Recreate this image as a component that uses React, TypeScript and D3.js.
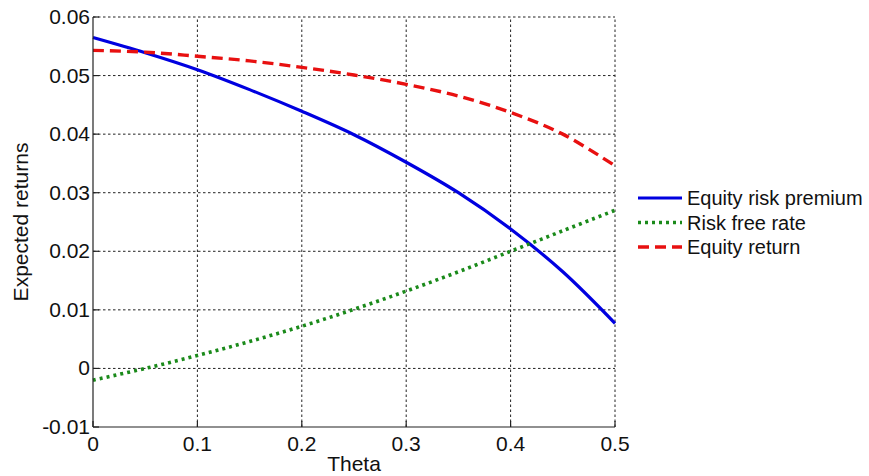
import * as d3 from 'd3';

// theta values along the x axis
const thetas = [0, 0.05, 0.1, 0.15, 0.2, 0.25, 0.3, 0.35, 0.4, 0.45, 0.5];

// series
const equityRiskPremium = [0.0565, 0.0539, 0.051, 0.0476, 0.0439, 0.0399, 0.0352, 0.0300, 0.0238, 0.0165, 0.0077];
const riskFreeRate = [-0.002, 0.0, 0.0022, 0.0046, 0.0072, 0.0101, 0.0132, 0.0165, 0.0200, 0.0235, 0.0270];
const equityReturn = [0.0543, 0.0540, 0.0533, 0.0525, 0.0514, 0.0501, 0.0485, 0.0465, 0.0437, 0.0400, 0.0346];

const xTicks = [0, 0.1, 0.2, 0.3, 0.4, 0.5];
const yTicks = [-0.01, 0, 0.01, 0.02, 0.03, 0.04, 0.05, 0.06];

const seriesNames = ['Equity risk premium', 'Risk free rate', 'Equity return'];

const W = 869;
const H = 476;
const margin = { top: 17, right: 254, bottom: 49, left: 93 };
const font = '"Liberation Sans", Arial, sans-serif';

export default function App() {
  const x = d3.scaleLinear().domain([0, 0.5]).range([margin.left, W - margin.right]);
  const y = d3.scaleLinear().domain([-0.01, 0.06]).range([H - margin.bottom, margin.top]);

  const line = d3.line<number>()
    .x((_, i) => x(thetas[i]))
    .y(d => y(d))
    .curve(d3.curveCatmullRom);

  const series = [
    { name: seriesNames[0], values: equityRiskPremium, color: '#0000e0', dash: undefined, width: 3.2 },
    { name: seriesNames[1], values: riskFreeRate, color: '#1a8a1a', dash: '3,4', width: 3.6 },
    { name: seriesNames[2], values: equityReturn, color: '#e81010', dash: '11,6', width: 3.4 },
  ];

  const [x0, x1] = x.range();
  const [y0, y1] = y.range();

  return (
    <svg width={W} height={H} style={{ position: 'absolute', left: 0, top: 0, background: '#fff' }}>
      {/* grid */}
      <g stroke="#222" strokeWidth={1} strokeDasharray="2.5,2.5">
        {xTicks.slice(1).map(t => (
          <line key={'gx' + t} x1={x(t)} x2={x(t)} y1={y0} y2={y1} />
        ))}
        {yTicks.slice(1).map(t => (
          <line key={'gy' + t} x1={x0} x2={x1} y1={y(t)} y2={y(t)} />
        ))}
      </g>

      {/* curves */}
      {series.map(s => (
        <path key={s.name} d={line(s.values) ?? ''} fill="none" stroke={s.color}
          strokeWidth={s.width} strokeDasharray={s.dash} />
      ))}

      {/* axes */}
      <g stroke="#222" strokeWidth={1.2} fill="none">
        <line x1={x0} x2={x0} y1={y0} y2={y1} />
        <line x1={x0} x2={x1} y1={y0} y2={y0} />
        {xTicks.map(t => (
          <line key={'tx' + t} x1={x(t)} x2={x(t)} y1={y0} y2={y0 - 6} />
        ))}
        {yTicks.map(t => (
          <line key={'ty' + t} x1={x0} x2={x0 + 6} y1={y(t)} y2={y(t)} />
        ))}
      </g>

      <g fontFamily={font} fontSize={21} fill="#111">
        {xTicks.map(t => (
          <text key={'lx' + t} x={x(t)} y={y0 + 24} textAnchor="middle">{String(t)}</text>
        ))}
        {yTicks.map(t => (
          <text key={'ly' + t} x={x0 - 3} y={y(t) + 7} textAnchor="end">{String(t)}</text>
        ))}
        <text x={(x0 + x1) / 2} y={H - 5} textAnchor="middle">Theta</text>
        <text transform={`translate(28, ${(y0 + y1) / 2}) rotate(-90)`} textAnchor="middle">Expected returns</text>
      </g>

      {/* legend */}
      <g fontFamily={font} fontSize={20} fill="#111">
        {series.map((s, i) => {
          const ly = 198 + i * 24.5;
          return (
            <g key={'lg' + s.name}>
              <line x1={638} x2={682} y1={ly} y2={ly} stroke={s.color} strokeWidth={s.width}
                strokeDasharray={s.dash} />
              <text x={687} y={ly + 7}>{s.name}</text>
            </g>
          );
        })}
      </g>
    </svg>
  );
}
